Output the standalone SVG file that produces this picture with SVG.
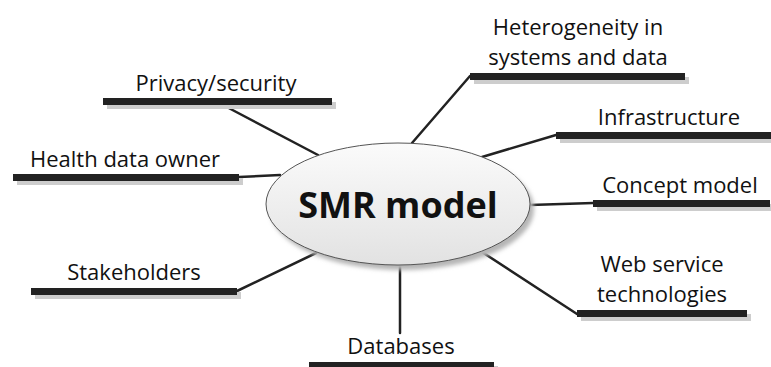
<svg xmlns="http://www.w3.org/2000/svg" width="771" height="367" viewBox="0 0 771 367">
<defs>
<linearGradient id="eg" x1="0" y1="0" x2="0" y2="1">
<stop offset="0" stop-color="#fbfbfb"/>
<stop offset="1" stop-color="#e2e2e2"/>
</linearGradient>
<filter id="blur" x="-10%" y="-10%" width="120%" height="130%">
<feGaussianBlur stdDeviation="2"/>
</filter>
</defs>
<style>
.lbl{font-family:"Open Sans","Liberation Sans",sans-serif;font-size:22px;fill:#111;text-anchor:middle}
.bar{fill:#222}
.sh{fill:#cdcdcd}
.con{stroke:#222;stroke-width:2.5;fill:none;stroke-linecap:round}
</style>
<rect width="771" height="367" fill="#fff"/>
<g id="connectors">
<line class="con" x1="223" y1="105" x2="318" y2="155"/>
<line class="con" x1="239" y1="177" x2="280" y2="175"/>
<line class="con" x1="470" y1="76" x2="412" y2="143"/>
<line class="con" x1="556" y1="135" x2="482" y2="157"/>
<line class="con" x1="530" y1="205" x2="593" y2="203"/>
<line class="con" x1="482" y1="252" x2="577" y2="314"/>
<line class="con" x1="237" y1="291" x2="316" y2="253"/>
<line class="con" x1="400" y1="264" x2="400" y2="333"/>
</g>
<g id="center">
<ellipse cx="402" cy="209" rx="132" ry="61" fill="#b5b5b5" filter="url(#blur)"/>
<ellipse cx="398" cy="204" rx="132" ry="61" fill="url(#eg)" stroke="#555" stroke-width="1"/>
<text x="398" y="218" font-family="'Open Sans','Liberation Sans',sans-serif" font-size="36" font-weight="bold" fill="#111" text-anchor="middle">SMR model</text>
</g>
<g id="privacy">
<rect class="sh" x="107" y="102" width="229" height="7"/>
<rect class="bar" x="103" y="98" width="229" height="7"/>
<text class="lbl" x="216" y="91">Privacy/security</text>
</g>
<g id="health">
<rect class="sh" x="17" y="178" width="226" height="7"/>
<rect class="bar" x="13" y="174" width="226" height="7"/>
<text class="lbl" x="125" y="167">Health data owner</text>
</g>
<g id="heterogeneity">
<rect class="sh" x="474" y="77" width="215" height="7"/>
<rect class="bar" x="470" y="73" width="215" height="7"/>
<text class="lbl" x="578" y="35">Heterogeneity in</text>
<text class="lbl" x="578" y="65">systems and data</text>
</g>
<g id="infrastructure">
<rect class="sh" x="560" y="136" width="215" height="7"/>
<rect class="bar" x="556" y="132" width="215" height="7"/>
<text class="lbl" x="669" y="125">Infrastructure</text>
</g>
<g id="concept">
<rect class="sh" x="597" y="204" width="177" height="7"/>
<rect class="bar" x="593" y="200" width="177" height="7"/>
<text class="lbl" x="680" y="193">Concept model</text>
</g>
<g id="webservice">
<rect class="sh" x="581" y="314" width="170" height="7"/>
<rect class="bar" x="577" y="310" width="170" height="7"/>
<text class="lbl" x="662" y="272">Web service</text>
<text class="lbl" x="662" y="302">technologies</text>
</g>
<g id="stakeholders">
<rect class="sh" x="35" y="292" width="206" height="7"/>
<rect class="bar" x="31" y="288" width="206" height="7"/>
<text class="lbl" x="134" y="280">Stakeholders</text>
</g>
<g id="databases">
<rect class="sh" x="313" y="366" width="185" height="7"/>
<rect class="bar" x="309" y="362" width="185" height="7"/>
<text class="lbl" x="401" y="354">Databases</text>
</g>
</svg>
